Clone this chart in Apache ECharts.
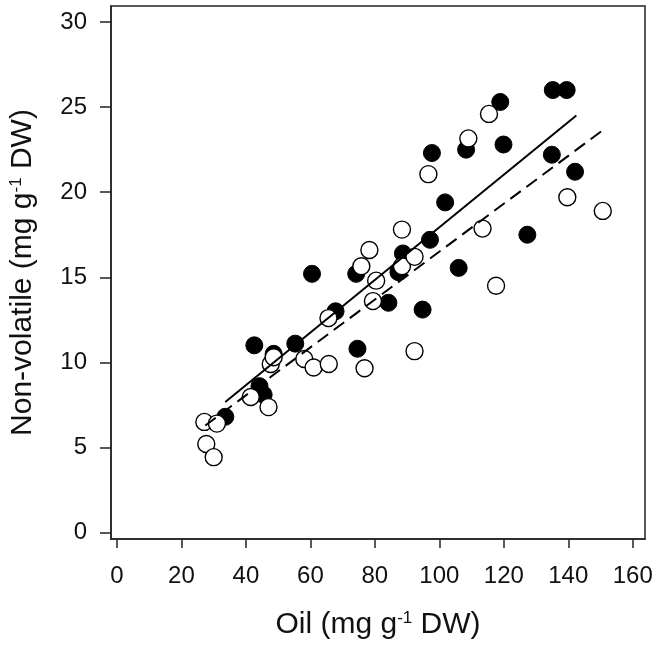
<!DOCTYPE html>
<html>
<head>
<meta charset="utf-8">
<script src="https://cdn.jsdelivr.net/npm/echarts@6/dist/echarts.min.js"></script>
<style>
  html, body { margin: 0; padding: 0; background: #fff; }
  #chart { width: 658px; height: 649px; }
</style>
</head>
<body>
<div id="chart"></div>
<script>
// Filled circles: [oil, non-volatile]
const filledPoints = [
  [33.6, 6.8], [42.6, 11.0], [44.2, 8.6], [45.5, 8.1], [48.6, 10.5],
  [55.3, 11.1], [60.5, 15.2], [67.8, 13.0], [74.2, 15.2], [74.6, 10.8],
  [84.2, 13.5], [87.3, 15.3], [88.7, 16.4], [94.8, 13.1], [97.1, 17.2],
  [97.7, 22.3], [101.8, 19.4], [106.0, 15.55], [108.3, 22.5], [118.9, 25.3],
  [119.9, 22.8], [127.3, 17.5], [134.9, 22.2], [135.2, 26.0], [139.5, 26.0],
  [142.1, 21.2]
];
// Open circles: [oil, non-volatile]
const openPoints = [
  [27.1, 6.5], [27.7, 5.2], [30.0, 4.43], [31.0, 6.4], [41.5, 7.96],
  [47.0, 7.37], [47.7, 9.9], [48.6, 10.3], [58.1, 10.2], [61.0, 9.7],
  [65.6, 12.6], [65.7, 9.9], [75.8, 15.65], [76.8, 9.65], [78.3, 16.6],
  [79.4, 13.6], [80.4, 14.8], [88.4, 17.8], [88.4, 15.65], [92.3, 16.2],
  [92.3, 10.66], [96.6, 21.06], [109.0, 23.16], [113.4, 17.86], [115.4, 24.6],
  [117.6, 14.5], [139.7, 19.7], [150.7, 18.9]
];
// Regression lines (endpoints)
const solidFit = [[33.6, 7.67], [142.5, 24.5]];
const dashedFit = [[27.4, 6.29], [150.4, 23.6]];

const xTicks = [0, 20, 40, 60, 80, 100, 120, 140, 160];
const yTicks = [0, 5, 10, 15, 20, 25, 30];

const FONT = 'Liberation Sans, Arial, sans-serif';
const ink = '#111';

const chart = echarts.init(document.getElementById('chart'), null, { renderer: 'canvas' });
chart.setOption({
  backgroundColor: '#fff',
  animation: false,
  grid: {
    left: 111, right: 13, top: 6, bottom: 110,
    show: true, borderColor: '#222', borderWidth: 1.5, backgroundColor: 'transparent'
  },
  xAxis: {
    type: 'value',
    min: -1.86, max: 163.8,
    name: 'Oil (mg g{sup|-1} DW)',
    nameLocation: 'middle',
    nameGap: 71,
    nameTextStyle: {
      color: ink, fontFamily: FONT, fontSize: 30,
      rich: { sup: { fontSize: 17, fontFamily: FONT, color: ink, verticalAlign: 'top' } }
    },
    splitLine: { show: false },
    axisLine: { show: true, onZero: false, lineStyle: { color: '#222', width: 1.5 } },
    axisTick: { show: true, inside: false, length: 9, customValues: xTicks, lineStyle: { color: '#222', width: 1.5 } },
    axisLabel: { customValues: xTicks, color: ink, fontFamily: FONT, fontSize: 24, margin: 25 }
  },
  yAxis: {
    type: 'value',
    min: -0.38, max: 30.94,
    name: 'Non-volatile (mg g{sup|-1} DW)',
    nameLocation: 'middle',
    nameGap: 73,
    nameRotate: 90,
    nameTextStyle: {
      color: ink, fontFamily: FONT, fontSize: 30,
      rich: { sup: { fontSize: 17, fontFamily: FONT, color: ink, verticalAlign: 'top' } }
    },
    splitLine: { show: false },
    axisLine: { show: true, onZero: false, lineStyle: { color: '#222', width: 1.5 } },
    axisTick: { show: true, inside: false, length: 11, customValues: yTicks, lineStyle: { color: '#222', width: 1.5 } },
    axisLabel: { customValues: yTicks, color: ink, fontFamily: FONT, fontSize: 24, margin: 24 }
  },
  series: [
    {
      type: 'scatter', data: filledPoints, symbol: 'circle', symbolSize: 17,
      itemStyle: { color: '#000', borderColor: '#000', borderWidth: 1, opacity: 1 }, z: 2
    },
    {
      type: 'scatter', data: openPoints, symbol: 'circle', symbolSize: 17,
      itemStyle: { color: '#fff', borderColor: '#000', borderWidth: 1.4, opacity: 1 }, z: 3
    },
    {
      type: 'line', data: solidFit, symbol: 'none', z: 4,
      lineStyle: { color: '#000', width: 2, type: 'solid' }
    },
    {
      type: 'line', data: dashedFit, symbol: 'none', z: 4,
      lineStyle: { color: '#000', width: 2, type: [13, 7] }
    }
  ]
});
</script>
</body>
</html>
